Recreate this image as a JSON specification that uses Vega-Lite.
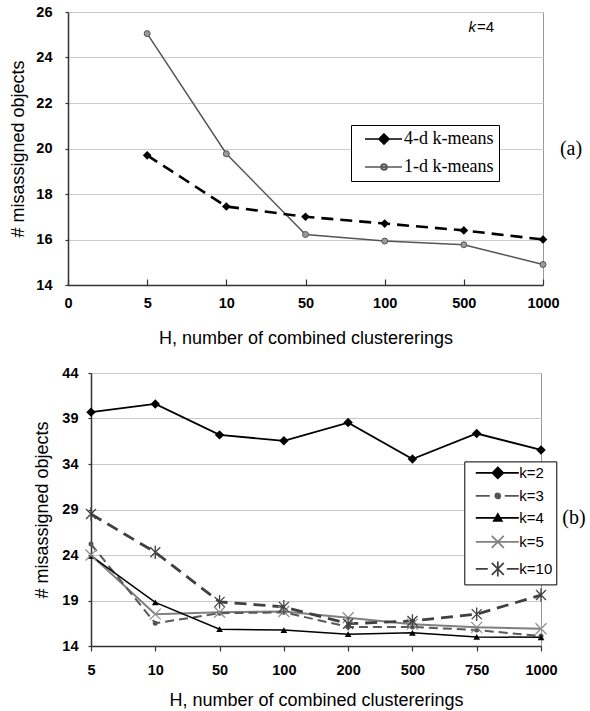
{
  "$schema": "https://vega.github.io/schema/vega-lite/v6.json",
  "padding": {"left": 8, "top": 3, "right": 0, "bottom": 0},
  "background": "white",
  "config": {
    "view": {"stroke": "#999999", "strokeWidth": 1},
    "font": "Liberation Sans",
    "axis": {"labelFont": "Liberation Sans", "titleFont": "Liberation Sans", "labelColor": "#000000", "titleColor": "#000000", "titleFontWeight": "normal", "labelFontWeight": "bold", "domainColor": "#333333", "domainWidth": 1.5, "tickColor": "#333333", "tickWidth": 1.2, "gridColor": "#cccccc", "gridWidth": 1}
  },
  "datasets": {
    "pa": [
      {"H": "5", "v": 19.7, "s": "4-d k-means"},
      {"H": "10", "v": 17.45, "s": "4-d k-means"},
      {"H": "50", "v": 17.0, "s": "4-d k-means"},
      {"H": "100", "v": 16.7, "s": "4-d k-means"},
      {"H": "500", "v": 16.4, "s": "4-d k-means"},
      {"H": "1000", "v": 16.0, "s": "4-d k-means"},
      {"H": "5", "v": 25.05, "s": "1-d k-means"},
      {"H": "10", "v": 19.77, "s": "1-d k-means"},
      {"H": "50", "v": 16.22, "s": "1-d k-means"},
      {"H": "100", "v": 15.93, "s": "1-d k-means"},
      {"H": "500", "v": 15.77, "s": "1-d k-means"},
      {"H": "1000", "v": 14.9, "s": "1-d k-means"}
    ],
    "pb": [
      {"H": "5", "v": 39.7, "s": "k=2"},
      {"H": "10", "v": 40.6, "s": "k=2"},
      {"H": "50", "v": 37.2, "s": "k=2"},
      {"H": "100", "v": 36.55, "s": "k=2"},
      {"H": "200", "v": 38.55, "s": "k=2"},
      {"H": "500", "v": 34.55, "s": "k=2"},
      {"H": "750", "v": 37.35, "s": "k=2"},
      {"H": "1000", "v": 35.55, "s": "k=2"},
      {"H": "5", "v": 25.2, "s": "k=3"},
      {"H": "10", "v": 16.5, "s": "k=3"},
      {"H": "50", "v": 17.6, "s": "k=3"},
      {"H": "100", "v": 17.7, "s": "k=3"},
      {"H": "200", "v": 16.1, "s": "k=3"},
      {"H": "500", "v": 16.1, "s": "k=3"},
      {"H": "750", "v": 15.75, "s": "k=3"},
      {"H": "1000", "v": 15.1, "s": "k=3"},
      {"H": "5", "v": 23.9, "s": "k=4"},
      {"H": "10", "v": 18.8, "s": "k=4"},
      {"H": "50", "v": 15.85, "s": "k=4"},
      {"H": "100", "v": 15.75, "s": "k=4"},
      {"H": "200", "v": 15.3, "s": "k=4"},
      {"H": "500", "v": 15.45, "s": "k=4"},
      {"H": "750", "v": 15.0, "s": "k=4"},
      {"H": "1000", "v": 14.95, "s": "k=4"},
      {"H": "5", "v": 24.0, "s": "k=5"},
      {"H": "10", "v": 17.5, "s": "k=5"},
      {"H": "50", "v": 17.7, "s": "k=5"},
      {"H": "100", "v": 17.8, "s": "k=5"},
      {"H": "200", "v": 17.1, "s": "k=5"},
      {"H": "500", "v": 16.4, "s": "k=5"},
      {"H": "750", "v": 16.05, "s": "k=5"},
      {"H": "1000", "v": 15.9, "s": "k=5"},
      {"H": "5", "v": 28.5, "s": "k=10"},
      {"H": "10", "v": 24.3, "s": "k=10"},
      {"H": "50", "v": 18.85, "s": "k=10"},
      {"H": "100", "v": 18.3, "s": "k=10"},
      {"H": "200", "v": 16.45, "s": "k=10"},
      {"H": "500", "v": 16.75, "s": "k=10"},
      {"H": "750", "v": 17.5, "s": "k=10"},
      {"H": "1000", "v": 19.6, "s": "k=10"}
    ]
  },
  "spacing": 16,
  "resolve": {
    "scale": {"shape": "independent", "color": "independent", "stroke": "independent"},
    "legend": {"shape": "independent", "color": "independent", "stroke": "independent"}
  },
  "vconcat": [
    {
      "spacing": 0,
      "hconcat": [
        {"width": 1, "height": 10, "view": {"stroke": null, "fill": "white"}, "data": {"values": []}, "mark": "point", "encoding": {}},
        {
          "width": 475,
          "height": 273,
          "layer": [
            {
              "data": {"name": "pa"},
              "encoding": {
                "x": {"field": "H", "type": "ordinal", "scale": {"type": "point", "domain": ["0", "5", "10", "50", "100", "500", "1000"], "padding": 0}, "axis": {"title": "H, number of combined clustererings", "titleFontSize": 18, "titlePadding": 20, "labelFontSize": 14.5, "labelAngle": 0, "labelPadding": 17, "tickSize": -6, "grid": false}},
                "y": {"field": "v", "type": "quantitative", "scale": {"domain": [14, 26], "nice": false, "zero": false}, "axis": {"values": [14, 16, 18, 20, 22, 24, 26], "title": "# misassigned objects", "titleFontSize": 18, "titlePadding": 8, "labelFontSize": 14.5, "labelPadding": 13, "tickSize": 3, "grid": true}},
                "order": {"value": null}
              },
              "layer": [
                {"transform": [{"filter": "datum.s === '1-d k-means'"}], "mark": {"type": "line", "color": "#555555", "strokeWidth": 1.5}, "encoding": {}},
                {"transform": [{"filter": "datum.s === '4-d k-means'"}], "mark": {"type": "line", "color": "#000000", "strokeWidth": 2.6, "strokeDash": [12, 7]}, "encoding": {}},
                {"transform": [{"filter": "datum.s === '1-d k-means'"}], "mark": {"type": "point", "shape": "circle", "filled": true, "size": 36, "color": "#9a9a9a", "stroke": "#555555", "strokeWidth": 1, "opacity": 1}, "encoding": {}},
                {"transform": [{"filter": "datum.s === '4-d k-means'"}], "mark": {"type": "point", "shape": "diamond", "filled": true, "size": 75, "color": "#000000", "opacity": 1}, "encoding": {}},
                {
                  "transform": [{"filter": "false"}],
                  "mark": {"type": "point", "filled": true, "size": 4, "opacity": 1, "strokeWidth": 1.7},
                  "encoding": {
                    "shape": {
                      "field": "s", "type": "nominal",
                      "scale": {"domain": ["4-d k-means", "1-d k-means"], "range": ["M0,0H37M19,-5L24,0L19,5L14,0Z", "M0,0H37M22,0A3,3 0 1,0 16,0A3,3 0 1,0 22,0Z"]},
                      "legend": {"title": null, "orient": "none", "legendX": 343, "legendY": 113, "padding": 5, "strokeColor": "#000000", "fillColor": "#ffffff", "labelFont": "Liberation Serif", "labelFontSize": 18, "labelColor": "#000000", "labelOffset": 30, "symbolSize": 4, "symbolStrokeWidth": 1.7, "symbolOpacity": 1, "rowPadding": 10}
                    },
                    "color": {
                      "field": "s", "type": "nominal",
                      "scale": {"domain": ["4-d k-means", "1-d k-means"], "range": ["#000000", "#9a9a9a"]},
                      "legend": {"title": null, "orient": "none", "legendX": 343, "legendY": 113, "padding": 5, "strokeColor": "#000000", "fillColor": "#ffffff", "labelFont": "Liberation Serif", "labelFontSize": 18, "labelColor": "#000000", "labelOffset": 30, "symbolSize": 4, "symbolStrokeWidth": 1.7, "symbolOpacity": 1, "rowPadding": 10}
                    },
                    "stroke": {
                      "field": "s", "type": "nominal",
                      "scale": {"domain": ["4-d k-means", "1-d k-means"], "range": ["#000000", "#555555"]},
                      "legend": {"title": null, "orient": "none", "legendX": 343, "legendY": 113, "padding": 5, "strokeColor": "#000000", "fillColor": "#ffffff", "labelFont": "Liberation Serif", "labelFontSize": 18, "labelColor": "#000000", "labelOffset": 30, "symbolSize": 4, "symbolStrokeWidth": 1.7, "symbolOpacity": 1, "rowPadding": 10}
                    }
                  }
                }
              ]
            },
            {
              "data": {"values": [{}]},
              "mark": {"type": "text", "font": "Liberation Serif", "fontSize": 20, "align": "center", "baseline": "middle", "dx": 28, "color": "#000000"},
              "encoding": {"x": {"datum": "1000", "type": "ordinal"}, "y": {"datum": 20.0, "type": "quantitative"}, "text": {"value": "(a)"}}
            },
            {
              "data": {"values": [{}]},
              "mark": {"type": "text", "font": "Liberation Sans", "fontSize": 15, "fontStyle": "italic", "align": "right", "baseline": "middle", "dx": -67, "color": "#000000"},
              "encoding": {"x": {"datum": "1000", "type": "ordinal"}, "y": {"datum": 25.35, "type": "quantitative"}, "text": {"value": "k"}}
            },
            {
              "data": {"values": [{}]},
              "mark": {"type": "text", "font": "Liberation Sans", "fontSize": 15, "align": "left", "baseline": "middle", "dx": -66, "color": "#000000"},
              "encoding": {"x": {"datum": "1000", "type": "ordinal"}, "y": {"datum": 25.35, "type": "quantitative"}, "text": {"value": "=4"}}
            }
          ]
        }
      ]
    },
    {
      "spacing": 0,
      "hconcat": [
        {"width": 25, "height": 10, "view": {"stroke": null, "fill": "white"}, "data": {"values": []}, "mark": "point", "encoding": {}},
        {
          "width": 450,
          "height": 273,
          "layer": [
            {
              "data": {"name": "pb"},
              "encoding": {
                "x": {"field": "H", "type": "ordinal", "scale": {"type": "point", "domain": ["5", "10", "50", "100", "200", "500", "750", "1000"], "padding": 0}, "axis": {"title": "H, number of combined clustererings", "titleFontSize": 18, "titlePadding": 15, "labelFontSize": 14.5, "labelAngle": 0, "labelPadding": 12, "tickSize": 5, "grid": false}},
                "y": {"field": "v", "type": "quantitative", "scale": {"domain": [14, 44], "nice": false, "zero": false}, "axis": {"values": [14, 19, 24, 29, 34, 39, 44], "title": "# misassigned objects", "titleFontSize": 18, "titlePadding": 10, "labelFontSize": 14.5, "labelPadding": 10, "tickSize": 3, "grid": true, "gridColor": "#c8c8c8"}},
                "order": {"value": null}
              },
              "layer": [
                {"transform": [{"filter": "datum.s === 'k=5'"}], "mark": {"type": "line", "color": "#7f7f7f", "strokeWidth": 2}, "encoding": {}},
                {"transform": [{"filter": "datum.s === 'k=3'"}], "mark": {"type": "line", "color": "#595959", "strokeWidth": 2, "strokeDash": [9, 5]}, "encoding": {}},
                {"transform": [{"filter": "datum.s === 'k=10'"}], "mark": {"type": "line", "color": "#404040", "strokeWidth": 2.8, "strokeDash": [12, 7]}, "encoding": {}},
                {"transform": [{"filter": "datum.s === 'k=4'"}], "mark": {"type": "line", "color": "#000000", "strokeWidth": 1.5}, "encoding": {}},
                {"transform": [{"filter": "datum.s === 'k=2'"}], "mark": {"type": "line", "color": "#000000", "strokeWidth": 1.8}, "encoding": {}},
                {"transform": [{"filter": "datum.s === 'k=3'"}], "mark": {"type": "point", "shape": "circle", "filled": true, "size": 25, "color": "#555555", "opacity": 1}, "encoding": {}},
                {"transform": [{"filter": "datum.s === 'k=4'"}], "mark": {"type": "point", "shape": "triangle-up", "filled": true, "size": 45, "color": "#000000", "opacity": 1}, "encoding": {}},
                {"transform": [{"filter": "datum.s === 'k=2'"}], "mark": {"type": "point", "shape": "diamond", "filled": true, "size": 90, "color": "#000000", "opacity": 1}, "encoding": {}},
                {"transform": [{"filter": "datum.s === 'k=5'"}], "mark": {"type": "point", "shape": "M-1,-1L1,1M1,-1L-1,1", "filled": false, "size": 121, "color": "#909090", "strokeWidth": 1.3, "opacity": 1}, "encoding": {}},
                {"transform": [{"filter": "datum.s === 'k=10'"}], "mark": {"type": "point", "shape": "M-1,-1L1,1M1,-1L-1,1M0,-1.35L0,1.35", "filled": false, "size": 100, "color": "#404040", "strokeWidth": 1.3, "opacity": 1}, "encoding": {}},
                {
                  "transform": [{"filter": "false"}],
                  "mark": {"type": "point", "filled": true, "size": 4, "opacity": 1, "strokeWidth": 1.7},
                  "encoding": {
                    "shape": {
                      "field": "s", "type": "nominal",
                      "scale": {"domain": ["k=2", "k=3", "k=4", "k=5", "k=10"], "range": [
                        "M0,0H43M22,-5.5L27.5,0L22,5.5L16.5,0Z",
                        "M0,0H14M29,0H43M24.5,0A2.5,2.5 0 1,0 19.5,0A2.5,2.5 0 1,0 24.5,0Z",
                        "M0,0H43M22,-4L26,3L18,3Z",
                        "M0,0H43M16,-6L28,6M28,-6L16,6",
                        "M0,0H12M31,0H43M16,-6L28,6M28,-6L16,6M22,-7.5V7.5"
                      ]},
                      "legend": {"title": null, "orient": "none", "legendX": 456.3, "legendY": 88.4, "padding": 4, "strokeColor": "#000000", "fillColor": "#ffffff", "labelFont": "Liberation Sans", "labelFontSize": 15, "labelColor": "#000000", "labelOffset": 36, "symbolSize": 4, "symbolStrokeWidth": 1.7, "symbolOpacity": 1, "rowPadding": 6}
                    },
                    "color": {
                      "field": "s", "type": "nominal",
                      "scale": {"domain": ["k=2", "k=3", "k=4", "k=5", "k=10"], "range": ["#000000", "#555555", "#000000", "transparent", "transparent"]},
                      "legend": {"title": null, "orient": "none", "legendX": 456.3, "legendY": 88.4, "padding": 4, "strokeColor": "#000000", "fillColor": "#ffffff", "labelFont": "Liberation Sans", "labelFontSize": 15, "labelColor": "#000000", "labelOffset": 36, "symbolSize": 4, "symbolStrokeWidth": 1.7, "symbolOpacity": 1, "rowPadding": 6}
                    },
                    "stroke": {
                      "field": "s", "type": "nominal",
                      "scale": {"domain": ["k=2", "k=3", "k=4", "k=5", "k=10"], "range": ["#000000", "#555555", "#000000", "#808080", "#404040"]},
                      "legend": {"title": null, "orient": "none", "legendX": 456.3, "legendY": 88.4, "padding": 4, "strokeColor": "#000000", "fillColor": "#ffffff", "labelFont": "Liberation Sans", "labelFontSize": 15, "labelColor": "#000000", "labelOffset": 36, "symbolSize": 4, "symbolStrokeWidth": 1.7, "symbolOpacity": 1, "rowPadding": 6}
                    }
                  }
                }
              ]
            },
            {
              "data": {"values": [{}]},
              "mark": {"type": "text", "font": "Liberation Serif", "fontSize": 20, "align": "center", "baseline": "middle", "dx": 33, "color": "#000000"},
              "encoding": {"x": {"datum": "1000", "type": "ordinal"}, "y": {"datum": 28.1, "type": "quantitative"}, "text": {"value": "(b)"}}
            }
          ]
        }
      ]
    }
  ]
}
